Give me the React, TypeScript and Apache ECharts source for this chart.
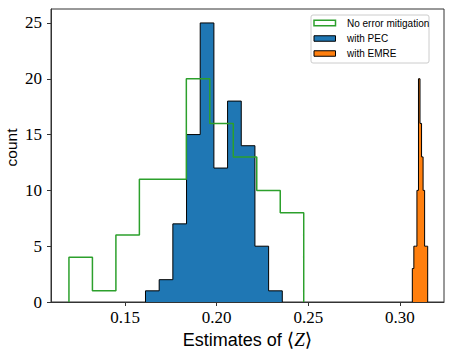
import React, { useEffect, useRef } from "react";
import * as echarts from "echarts";

// Histogram data (counts per bin)
const noMitigationRange = [0.1193, 0.2475];
const noMitigationCounts = [4, 1, 6, 11, 11, 20, 16, 13, 10, 8];

const pecRange = [0.1611, 0.2358];
const pecCounts = [1, 2, 7, 15, 25, 12, 18, 14, 5, 1];

const emreRange = [0.3068, 0.3152];
const emreCounts = [3, 5, 5, 10, 20, 16, 13, 10, 5, 5];

const xTicks = [0.15, 0.2, 0.25, 0.3];
const yTicks = [0, 5, 10, 15, 20, 25];

const seriesNames = ["No error mitigation", "with PEC", "with EMRE"];

function stepOutline(range: number[], counts: number[]): number[][] {
  const n = counts.length;
  const w = (range[1] - range[0]) / n;
  const pts: number[][] = [[range[0], 0]];
  for (let i = 0; i < n; i++) {
    const x0 = range[0] + i * w;
    const x1 = range[0] + (i + 1) * w;
    pts.push([x0, counts[i]]);
    pts.push([x1, counts[i]]);
  }
  pts.push([range[1], 0]);
  return pts;
}

export default function App() {
  const ref = useRef<HTMLDivElement>(null);
  useEffect(() => {
    if (!ref.current) return;
    const chart = echarts.init(ref.current, undefined, { renderer: "svg" });
    const serif = "'Liberation Serif', 'DejaVu Serif', serif";
    const sans = "'Liberation Sans', 'DejaVu Sans', sans-serif";
    const legendY = [23, 38.5, 53.5];
    const legendStyles = [
      { fill: "none", stroke: "#2ca02c", lineWidth: 1.5 },
      { fill: "#1f77b4", stroke: "#000", lineWidth: 1 },
      { fill: "#ff7f0e", stroke: "#000", lineWidth: 1 },
    ];
    const legendGraphics: any[] = [
      {
        type: "rect",
        shape: { x: 311, y: 15, width: 118, height: 48, r: 2 },
        style: { fill: "rgba(255,255,255,0.8)", stroke: "#cccccc", lineWidth: 1 },
        z: 100,
      },
    ];
    seriesNames.forEach((name, i) => {
      legendGraphics.push({
        type: "rect",
        shape: { x: 314, y: legendY[i] - 2.75, width: 21.5, height: 5.5 },
        style: legendStyles[i],
        z: 101,
      });
      legendGraphics.push({
        type: "text",
        x: 347,
        y: legendY[i],
        style: {
          text: name,
          fontFamily: sans,
          fontSize: 10,
          fill: "#000",
          verticalAlign: "middle",
          textAlign: "left",
        },
        z: 101,
      });
    });

    chart.setOption({
      animation: false,
      grid: {
        left: 51,
        right: 12,
        top: 9,
        bottom: 56,
        containLabel: false,
        outerBoundsMode: "none",
        show: true,
        borderColor: "#333",
        borderWidth: 1,
        backgroundColor: "transparent",
      },
      xAxis: {
        type: "value",
        min: 0.1095,
        max: 0.3241,
        name: "{a|Estimates of }{b|⟨}{c|Z}{b|⟩}",
        nameLocation: "middle",
        nameGap: 28,
        nameMoveOverlap: false,
        nameTextStyle: {
          rich: {
            a: { fontFamily: sans, fontSize: 18, color: "#000" },
            b: { fontFamily: serif, fontSize: 19, color: "#000" },
            c: { fontFamily: serif, fontSize: 19, fontStyle: "italic", color: "#000" },
          },
        },
        axisLine: { show: true, onZero: false, lineStyle: { color: "#333", width: 1 } },
        axisTick: {
          show: true,
          inside: false,
          length: 4,
          customValues: xTicks,
          lineStyle: { color: "#333", width: 1 },
        },
        axisLabel: {
          customValues: xTicks,
          formatter: (v: number) => v.toFixed(2),
          fontFamily: serif,
          fontSize: 17,
          color: "#000",
          margin: 7,
        },
        splitLine: { show: false },
      },
      yAxis: {
        type: "value",
        min: 0,
        max: 26.25,
        name: "count",
        nameLocation: "middle",
        nameGap: 32,
        nameMoveOverlap: false,
        nameTextStyle: {
          fontFamily: sans,
          fontSize: 15.5,
          color: "#000",
          padding: [0, 0, 0, 16],
        },
        axisLine: { show: true, onZero: false, lineStyle: { color: "#333", width: 1 } },
        axisTick: {
          show: true,
          inside: false,
          length: 4,
          customValues: yTicks,
          lineStyle: { color: "#333", width: 1 },
        },
        axisLabel: {
          customValues: yTicks,
          fontFamily: serif,
          fontSize: 17,
          color: "#000",
          margin: 9,
        },
        splitLine: { show: false },
      },
      series: [
        {
          name: seriesNames[1],
          type: "line",
          data: stepOutline(pecRange, pecCounts),
          showSymbol: false,
          symbol: "none",
          lineStyle: { color: "#000", width: 1 },
          areaStyle: { color: "#1f77b4", opacity: 1 },
          z: 2,
        },
        {
          name: seriesNames[2],
          type: "line",
          data: stepOutline(emreRange, emreCounts),
          showSymbol: false,
          symbol: "none",
          lineStyle: { color: "#000", width: 1 },
          areaStyle: { color: "#ff7f0e", opacity: 1 },
          z: 2,
        },
        {
          name: seriesNames[0],
          type: "line",
          data: stepOutline(noMitigationRange, noMitigationCounts),
          showSymbol: false,
          symbol: "none",
          lineStyle: { color: "#2ca02c", width: 1.5 },
          z: 3,
        },
      ],
      graphic: legendGraphics,
    });
    return () => chart.dispose();
  }, []);
  return (
    <div
      ref={ref}
      style={{ position: "fixed", left: 0, top: 0, width: 456, height: 358, background: "#fff" }}
    />
  );
}
